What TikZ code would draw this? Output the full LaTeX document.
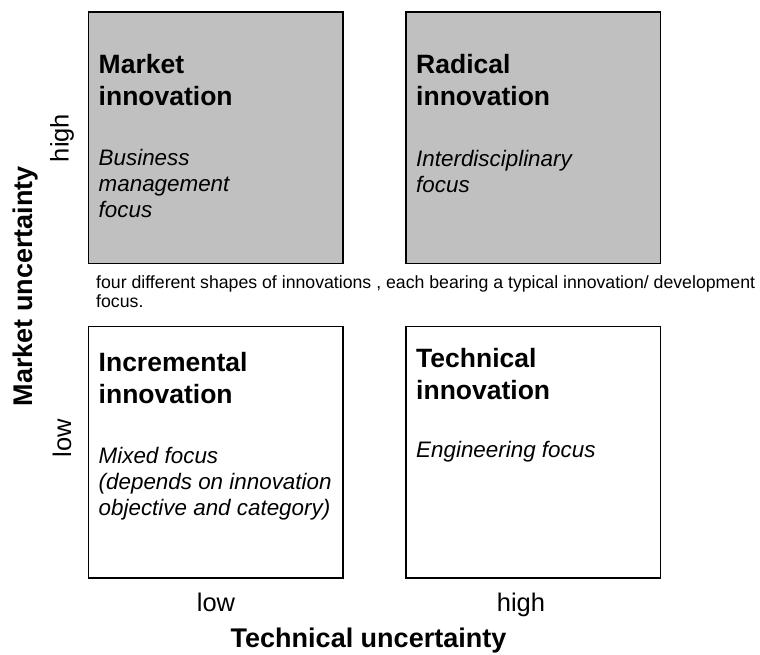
\documentclass[tikz,border=0pt]{standalone}
\usepackage{fontspec}
\setmainfont{Liberation Sans}
\definecolor{boxgray}{RGB}{192,192,192}
\begin{document}
\begin{tikzpicture}[x=1pt,y=-1pt,
  quad/.style={draw=black, line width=1.3pt, inner sep=0pt, outer sep=0pt, anchor=north west, minimum width=254.5pt, minimum height=251.5pt},
  hibox/.style={quad, fill=boxgray},
  lobox/.style={quad, fill=white},
  ttl/.style={anchor=base west, inner sep=0pt, align=left, font=\fontsize{26.5}{31.5}\selectfont\bfseries},
  foc/.style={anchor=base west, inner sep=0pt, align=left, font=\fontsize{22.4}{25.6}\selectfont\itshape},
  tick/.style={inner sep=0pt, font=\fontsize{25.5}{30}\selectfont},
  axistitle/.style={inner sep=0pt, font=\fontsize{27}{31}\selectfont\bfseries},
  caption/.style={anchor=base west, inner sep=0pt, align=left, font=\fontsize{17.7}{18.5}\selectfont},
]
\useasboundingbox (0,0) rectangle (760,654);
\fill[white] (0,0) rectangle (760,654);

% quadrants
\node[hibox] (mkt) at (88.5,12) {};
\node[hibox] (rad) at (406,12) {};
\node[lobox] (inc) at (88.5,326.5) {};
\node[lobox] (tec) at (406,326.5) {};

% texts in quadrants (anchored at the baseline of the last line)
\node[ttl] (mktT) at (98.5,105) {Market\\innovation};
\node[foc] (mktF) at (98.5,217) {Business\\management\\focus};
\node[ttl] (radT) at (416,105) {Radical\\innovation};
\node[foc] (radF) at (416,192) {Interdisciplinary\\focus};
\node[ttl] (incT) at (98.5,403) {Incremental\\innovation};
\node[foc] (incF) at (98.5,515) {Mixed focus\\(depends on innovation\\objective and category)};
\node[ttl] (tecT) at (416,399) {Technical\\innovation};
\node[foc] (tecF) at (416,457) {Engineering focus};

% caption between rows
\node[caption] (cap) at (96,307) {four different shapes of innovations , each bearing a typical innovation/ development\\focus.};

% axes
\node[tick, rotate=90] (yhigh) at (62,138) {high};
\node[tick, rotate=90] (ylow) at (62,438) {low};
\node[axistitle, rotate=90] (ytitle) at (26,286) {Market uncertainty};
\node[tick, anchor=base] (xlow) at (216,611) {low};
\node[tick, anchor=base] (xhigh) at (521,611) {high};
\node[axistitle, anchor=base] (xtitle) at (368.5,647) {Technical uncertainty};
\end{tikzpicture}
\end{document}
